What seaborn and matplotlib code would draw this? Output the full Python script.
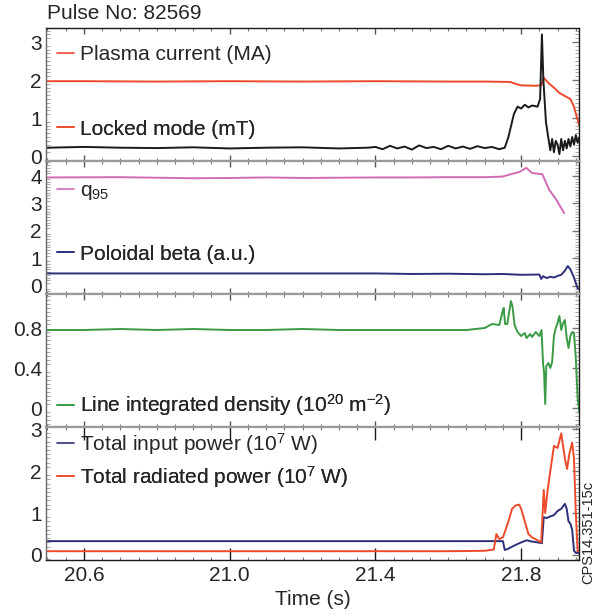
import numpy as np
import pandas as pd
import seaborn as sns
import matplotlib
matplotlib.use("Agg")
import matplotlib.pyplot as plt
from matplotlib.lines import Line2D
from matplotlib.ticker import MultipleLocator

# ---------------- data ----------------
t_ip = [20.50, 20.60, 20.80, 21.00, 21.20, 21.40, 21.60, 21.70, 21.77, 21.785, 21.80, 21.84, 21.855,
        21.862, 21.875, 21.89, 21.905, 21.92, 21.935, 21.945, 21.952, 21.96]
ip = [1.97, 1.97, 1.96, 1.97, 1.96, 1.97, 1.96, 1.96, 1.95, 1.90, 1.86, 1.85, 1.86,
      2.06, 1.92, 1.80, 1.66, 1.58, 1.50, 1.30, 1.05, 0.80]

t_lm = [20.50, 20.60, 20.70, 20.80, 20.90, 21.00, 21.10, 21.20, 21.30, 21.38, 21.40, 21.42, 21.44,
        21.46, 21.48, 21.50, 21.52, 21.54, 21.56, 21.58, 21.60, 21.62, 21.64, 21.66, 21.68, 21.70,
        21.72, 21.74, 21.755, 21.765, 21.78, 21.79, 21.80, 21.81, 21.82, 21.83, 21.845, 21.852,
        21.857, 21.861, 21.868, 21.875, 21.88, 21.885, 21.89, 21.895, 21.90, 21.905, 21.91, 21.915,
        21.92, 21.925, 21.93, 21.935, 21.94, 21.945, 21.95, 21.955, 21.96]
lm = [0.22, 0.24, 0.22, 0.21, 0.23, 0.20, 0.22, 0.23, 0.20, 0.22, 0.24, 0.18, 0.27,
      0.20, 0.25, 0.17, 0.28, 0.21, 0.24, 0.18, 0.27, 0.20, 0.25, 0.19, 0.26, 0.21,
      0.24, 0.18, 0.22, 0.50, 1.10, 1.30, 1.25, 1.35, 1.28, 1.33, 1.30, 1.50,
      3.20, 2.00, 0.90, 0.45, 0.15, 0.45, 0.10, 0.40, 0.30, 0.05, 0.45, 0.15,
      0.40, 0.20, 0.45, 0.25, 0.50, 0.30, 0.55, 0.35, 0.50]

t_q = [20.50, 20.70, 20.80, 20.90, 21.00, 21.10, 21.20, 21.30, 21.40, 21.50, 21.60, 21.70, 21.748,
       21.795, 21.814, 21.83, 21.858, 21.877, 21.896, 21.918]
q95 = [3.95, 3.96, 3.94, 3.92, 3.93, 3.95, 3.93, 3.94, 3.95, 3.95, 3.96, 3.96, 3.98,
       4.15, 4.30, 4.11, 4.07, 3.50, 3.15, 2.65]

t_bp = [20.50, 21.00, 21.40, 21.50, 21.60, 21.70, 21.75, 21.80, 21.85, 21.855, 21.86, 21.87, 21.88,
        21.89, 21.90, 21.91, 21.92, 21.928, 21.935, 21.945, 21.955, 21.96]
bp = [0.45, 0.45, 0.45, 0.43, 0.44, 0.42, 0.43, 0.40, 0.41, 0.25, 0.35, 0.28, 0.33,
      0.30, 0.36, 0.40, 0.55, 0.72, 0.60, 0.30, -0.10, -0.10]

t_ne = [20.50, 20.60, 20.70, 20.80, 20.90, 21.00, 21.10, 21.20, 21.30, 21.40, 21.50, 21.60, 21.65,
        21.70, 21.72, 21.74, 21.748, 21.752, 21.756, 21.762, 21.768, 21.772, 21.776, 21.782, 21.79,
        21.80, 21.81, 21.815, 21.825, 21.83, 21.84, 21.85, 21.856, 21.86, 21.863, 21.866, 21.869,
        21.875, 21.88, 21.885, 21.89, 21.895, 21.90, 21.905, 21.91, 21.915, 21.92, 21.925, 21.93,
        21.935, 21.94, 21.945, 21.95, 21.955, 21.96]
ne = [0.78, 0.78, 0.79, 0.78, 0.79, 0.78, 0.78, 0.79, 0.78, 0.78, 0.78, 0.78, 0.78,
      0.80, 0.84, 0.83, 0.95, 1.00, 0.84, 0.84, 0.98, 1.07, 1.02, 0.83, 0.76,
      0.72, 0.75, 0.70, 0.74, 0.71, 0.76, 0.72, 0.78, 0.45, 0.35, 0.04, 0.42,
      0.45, 0.40, 0.46, 0.72, 0.80, 0.85, 0.92, 0.78, 0.85, 0.88, 0.70, 0.60,
      0.72, 0.76, 0.75, 0.50, 0.10, -0.05]

t_pin = [20.50, 21.00, 21.50, 21.75, 21.755, 21.765, 21.78, 21.80, 21.815, 21.83, 21.845, 21.857,
         21.862, 21.87, 21.88, 21.89, 21.90, 21.91, 21.92, 21.925, 21.93, 21.935, 21.94, 21.945,
         21.95, 21.96]
pin = [0.33, 0.33, 0.33, 0.33, 0.12, 0.15, 0.22, 0.30, 0.35, 0.32, 0.30, 0.28,
       0.90, 0.88, 0.92, 0.95, 1.05, 1.10, 1.22, 1.10, 0.80, 0.75, 0.60, 0.10,
       0.05, 0.05]

t_prad = [20.50, 21.00, 21.40, 21.60, 21.70, 21.725, 21.732, 21.74, 21.75, 21.758, 21.765, 21.775,
          21.785, 21.795, 21.80, 21.81, 21.82, 21.83, 21.845, 21.855, 21.862, 21.866, 21.872, 21.88,
          21.89, 21.90, 21.91, 21.915, 21.92, 21.926, 21.932, 21.94, 21.945, 21.95, 21.955, 21.96]
prad = [0.09, 0.09, 0.09, 0.09, 0.10, 0.13, 0.50, 0.38, 0.42, 0.62, 0.80, 1.10,
        1.18, 1.20, 1.10, 0.80, 0.50, 0.42, 0.35, 0.30, 1.55, 1.00, 1.50, 2.00,
        2.60, 2.55, 2.90, 2.60, 2.30, 2.05, 2.40, 2.68, 2.30, 1.00, 0.10, 0.10]

xticks = [20.6, 21.0, 21.4, 21.8]
xticklabels = ["20.6", "21.0", "21.4", "21.8"]

# ---------------- style ----------------
sns.set_style("white")
plt.rcParams["font.family"] = ["Liberation Sans", "DejaVu Sans"]
plt.rcParams["mathtext.default"] = "regular"
FS = 15

RED = "#ec4a2c"
BLACK = "#1a1a1a"
PINK = "#d06cb6"
NAVY = "#2d2f7a"
GREEN = "#3b9a45"
SEP = "#9a9a9a"

fig, axes = plt.subplots(4, 1, figsize=(5.97, 6.15), dpi=100, sharex=True,
                         gridspec_kw=dict(hspace=0))
fig.subplots_adjust(left=0.077, right=0.970, top=0.9545, bottom=0.0894)

def line(ax, x, y, c, lw=1.4):
    sns.lineplot(x=x, y=y, ax=ax, color=c, lw=lw, estimator=None, sort=False)

def leg(ax, label, color, y):
    h = Line2D([], [], color=color, lw=1.2)
    lg = ax.legend([h], [label], loc="center left", bbox_to_anchor=(0.02, y),
                   frameon=False, fontsize=FS, handlelength=0.85, handletextpad=0.25,
                   borderpad=0, borderaxespad=0)
    ax.add_artist(lg)

ax1, ax2, ax3, ax4 = axes
line(ax1, t_ip, ip, RED)
line(ax1, t_lm, lm, BLACK)
ax1.set_ylim(-0.13, 3.37)
ax1.set_yticks([0, 1, 2, 3])
ax1.set_yticklabels(["0", "1", "2", "3"])
ax1.yaxis.set_minor_locator(MultipleLocator(0.1))
leg(ax1, "Plasma current (MA)", RED, 0.80)
leg(ax1, "Locked mode (mT)", RED, 0.24)

line(ax2, t_q, q95, PINK)
line(ax2, t_bp, bp, NAVY)
ax2.set_ylim(-0.3, 4.55)
ax2.set_yticks([0, 1, 2, 3, 4])
ax2.set_yticklabels(["0", "1", "2", "3", "4"])
ax2.yaxis.set_minor_locator(MultipleLocator(0.1))
leg(ax2, r"q$_{95}$", PINK, 0.77)
leg(ax2, "Poloidal beta (a.u.)", NAVY, 0.30)

line(ax3, t_ne, ne, GREEN)
ax3.set_ylim(-0.19, 1.14)
ax3.set_yticks([0, 0.4, 0.8])
ax3.set_yticklabels(["0", "0.4", "0.8"])
ax3.yaxis.set_minor_locator(MultipleLocator(0.04))
leg(ax3, r"Line integrated density (10$^{20}$ m$^{-2}$)", GREEN, 0.165)

line(ax4, t_pin, pin, NAVY)
line(ax4, t_prad, prad, RED)
ax4.set_ylim(-0.12, 3.05)
ax4.set_yticks([0, 1, 2, 3])
ax4.set_yticklabels(["0", "1", "2", "3"])
ax4.yaxis.set_minor_locator(MultipleLocator(0.1))
leg(ax4, r"Total input power (10$^{7}$ W)", NAVY, 0.873)
leg(ax4, r"Total radiated power (10$^{7}$ W)", RED, 0.627)

for i, ax in enumerate(axes):
    ax.set_xlim(20.496, 21.959)
    ax.set_xticks(xticks)
    ax.xaxis.set_minor_locator(MultipleLocator(0.05))
    ax.tick_params(axis="y", which="major", direction="in", length=5, width=1,
                   color="#777777", labelsize=FS, pad=3, right=True)
    ax.tick_params(axis="y", which="minor", direction="in", length=3, width=0.8,
                   color="#aaaaaa", right=True, left=True)
    ax.tick_params(axis="x", which="major", direction="in", length=4, width=1,
                   color="#555555", top=True, bottom=True, labelsize=FS, pad=4)
    ax.tick_params(axis="x", which="minor", direction="in", length=2, width=0.8,
                   color="#777777", top=True, bottom=True)
    ax.set_xlabel("")
    ax.set_ylabel("")
    for s in ax.spines.values():
        s.set_color(BLACK)
        s.set_linewidth(1.0)
    ax.spines["left"].set_color("#666666")
    if i > 0:
        ax.spines["top"].set_color(SEP)
        ax.spines["top"].set_linewidth(1.6)
    if i < 3:
        ax.spines["bottom"].set_color(SEP)
        ax.spines["bottom"].set_linewidth(1.6)

ax4.tick_params(axis="x", which="major", length=9, color=BLACK)
ax4.set_xticklabels(xticklabels)
ax4.set_xlabel("Time (s)", fontsize=FS, labelpad=4)

fig.text(0.079, 0.978, "Pulse No: 82569", fontsize=FS, ha="left", va="center")
fig.text(0.986, 0.135, "CPS14.351-15c", fontsize=10.5, rotation=90, ha="center", va="center")

fig.savefig("out.png", dpi=100)
